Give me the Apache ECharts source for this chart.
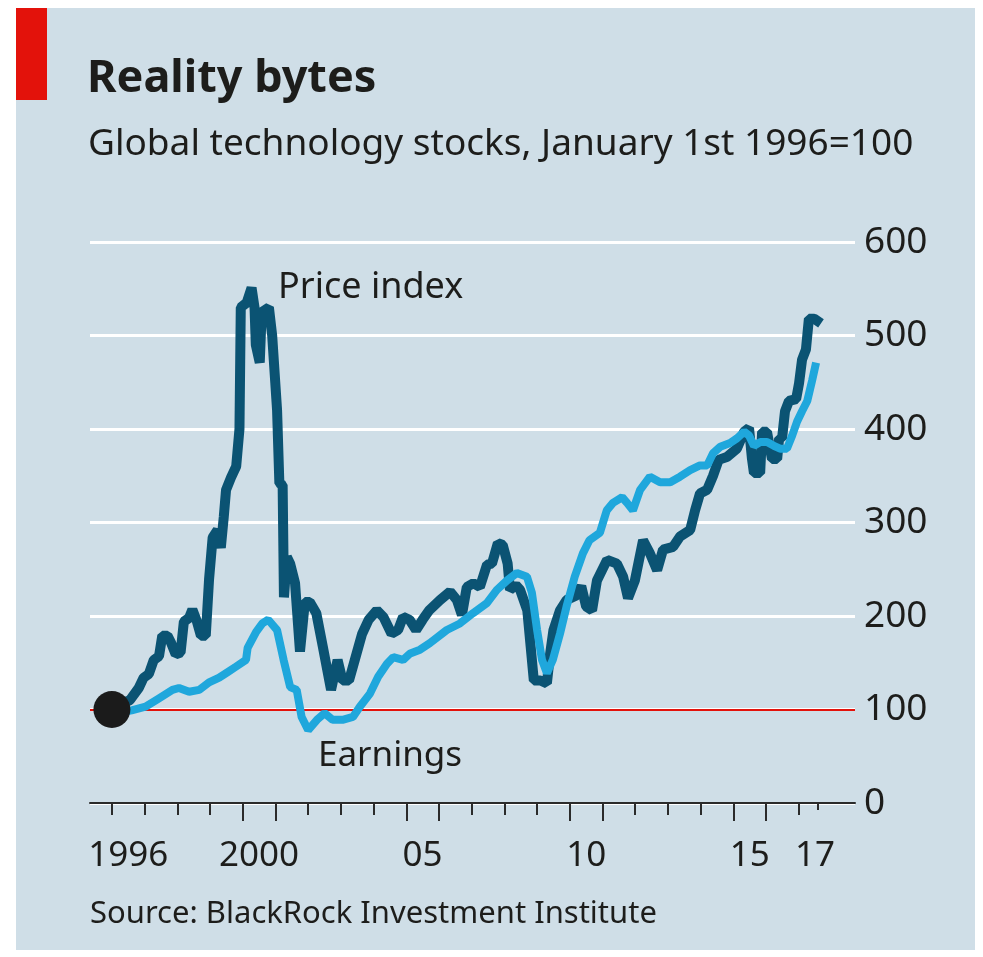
<!DOCTYPE html>
<html>
<head>
<meta charset="utf-8">
<script src="https://cdn.jsdelivr.net/npm/echarts@6/dist/echarts.min.js"></script>
<style>
  html, body { margin: 0; padding: 0; background: #fff; }
  #chart { width: 983px; height: 957px; }
</style>
</head>
<body>
<div id="chart"></div>
<script>
// Global technology stocks, January 1st 1996=100
const priceIndex = [
  [1996.00,100],[1996.30,106],[1996.55,110],[1996.82,123],[1996.97,134],[1997.13,138],[1997.28,153],
  [1997.44,157],[1997.54,179],[1997.70,179],[1997.80,172],[1997.95,159],[1998.10,161],[1998.20,194],
  [1998.36,198],[1998.46,207],[1998.60,194],[1998.72,179],[1998.87,179],[1998.97,239],[1999.08,284],
  [1999.23,292],[1999.33,273],[1999.42,306],[1999.49,335],[1999.64,348],[1999.80,360],[1999.90,400],
  [1999.94,530],[2000.12,535],[2000.27,551],[2000.36,530],[2000.40,490],[2000.52,471],[2000.58,525],
  [2000.80,530],[2000.90,500],[2001.05,420],[2001.12,342],[2001.22,340],[2001.26,220],[2001.35,263],
  [2001.45,256],[2001.60,235],[2001.75,162],[2001.90,215],[2002.05,215],[2002.25,203],[2002.45,167],
  [2002.70,121],[2002.90,153],[2003.05,131],[2003.25,131],[2003.45,156],[2003.65,181],[2003.85,196],
  [2004.10,206],[2004.30,199],[2004.55,181],[2004.75,185],[2004.90,199],[2005.10,196],[2005.30,185],
  [2005.50,196],[2005.70,206],[2006.03,217],[2006.34,226],[2006.55,217],[2006.70,201],[2006.85,231],
  [2007.05,235],[2007.25,231],[2007.47,255],[2007.62,256],[2007.80,278],[2007.95,276],[2008.10,256],
  [2008.17,228],[2008.35,233],[2008.48,228],[2008.70,206],[2008.90,131],[2009.10,131],[2009.30,128],
  [2009.40,160],[2009.50,185],[2009.70,206],[2009.90,217],[2010.20,222],[2010.35,232],[2010.50,210],
  [2010.68,206],[2010.83,238],[2011.14,260],[2011.44,256],[2011.63,242],[2011.78,219],[2011.99,238],
  [2012.24,281],[2012.45,267],[2012.67,249],[2012.85,271],[2013.16,274],[2013.37,285],[2013.68,292],
  [2013.83,313],[2013.98,331],[2014.20,335],[2014.38,350],[2014.55,367],[2014.80,370],[2015.11,379],
  [2015.33,397],[2015.48,401],[2015.57,368],[2015.63,353],[2015.82,353],[2015.88,397],[2016.03,397],
  [2016.18,368],[2016.34,368],[2016.40,390],[2016.49,390],[2016.58,419],[2016.70,430],[2016.92,432],
  [2017.01,449],[2017.10,474],[2017.22,485],[2017.31,518],[2017.47,518],[2017.68,513]
];
const earnings = [
  [1996.00,98],[1996.30,97],[1996.60,99],[1997.03,103],[1997.44,112],[1997.85,121],[1998.05,123],
  [1998.36,119],[1998.67,121],[1998.97,129],[1999.28,134],[1999.54,140],[1999.80,146],[2000.10,153],
  [2000.15,166],[2000.41,183],[2000.60,192],[2000.78,196],[2001.05,185],[2001.25,153],[2001.45,124],
  [2001.65,121],[2001.80,92],[2002.00,78],[2002.27,89],[2002.50,96],[2002.75,89],[2003.05,89],
  [2003.37,92],[2003.58,103],[2003.89,117],[2004.14,135],[2004.41,149],[2004.60,156],[2004.90,153],
  [2005.12,160],[2005.42,164],[2005.72,171],[2006.24,185],[2006.64,192],[2007.04,203],[2007.47,214],
  [2007.77,228],[2008.08,238],[2008.38,246],[2008.69,242],[2008.84,225],[2009.00,185],[2009.15,153],
  [2009.30,139],[2009.48,153],[2009.70,181],[2009.90,210],[2010.15,242],[2010.40,267],[2010.60,281],
  [2010.92,289],[2011.13,313],[2011.32,321],[2011.60,327],[2011.75,321],[2011.93,313],[2012.15,335],
  [2012.45,349],[2012.76,343],[2013.07,343],[2013.37,349],[2013.68,356],[2013.98,361],[2014.20,361],
  [2014.38,374],[2014.60,381],[2014.90,385],[2015.11,390],[2015.33,397],[2015.48,393],[2015.63,382],
  [2015.82,386],[2016.03,386],[2016.24,382],[2016.43,379],[2016.64,379],[2016.80,393],[2016.95,408],
  [2017.10,419],[2017.26,430],[2017.41,452],[2017.53,471]
];
const startPoint = [[1996, 100]];
const baseValue = 100;

const yearTicks = [1996,1997,1998,1999,2000,2001,2002,2003,2004,2005,2006,2007,2008,2009,2010,2011,2012,2013,2014,2015,2016,2017];
const longTicks = [2000,2001,2005,2006,2010,2011,2015,2016];
const endTick = [2017.58];
const xLabelYears = [1996.5, 2000.5, 2005.5, 2010.5, 2015.5, 2017.5];
const xLabelText = ['1996', '2000', '05', '10', '15', '17'];

const FONT = '"Noto Sans", Lato, sans-serif';
const INK = '#1d1d1b';

const chart = echarts.init(document.getElementById('chart'));

function xAxisBase(ticks, len, showLine) {
  return {
    type: 'value', position: 'bottom', min: 1995.33, max: 2018.72,
    axisLine: { show: showLine, lineStyle: { color: '#2b2b2b', width: 2 } },
    axisTick: { show: true, customValues: ticks, length: len, lineStyle: { color: '#2b2b2b', width: 2 } },
    axisLabel: { show: false },
    splitLine: { show: false }
  };
}

const xMain = xAxisBase(yearTicks, 12, true);
xMain.axisLabel = {
  show: true, customValues: xLabelYears, margin: 36,
  fontFamily: FONT, fontSize: 35, color: INK,
  formatter: function (v) {
    for (let i = 0; i < xLabelYears.length; i++) {
      if (Math.abs(xLabelYears[i] - v) < 0.01) return xLabelText[i];
    }
    return '';
  }
};

chart.setOption({
  backgroundColor: '#fff',
  animation: false,
  graphic: [
    { type: 'rect', z: -10, shape: { x: 16, y: 8, width: 959, height: 942 }, style: { fill: '#cfdee7' } },
    { type: 'rect', z: -9, shape: { x: 16, y: 8, width: 31, height: 92 }, style: { fill: '#e3120b' } },
    { type: 'text', left: 87, top: 57, style: { text: 'Reality bytes', fontFamily: FONT, fontWeight: 'bold', fontSize: 45, fill: INK } },
    { type: 'text', left: 88, top: 126, style: { text: 'Global technology stocks, January 1st 1996=100', fontFamily: FONT, fontSize: 37, fill: INK } },
    { type: 'text', left: 278, top: 270, style: { text: 'Price index', fontFamily: FONT, fontSize: 36, fill: INK } },
    { type: 'text', left: 318, top: 739, style: { text: 'Earnings', fontFamily: FONT, fontSize: 35, fill: INK } },
    { type: 'text', left: 90, top: 899, style: { text: 'Source: BlackRock Investment Institute', fontFamily: FONT, fontSize: 31, fill: INK } }
  ],
  grid: { left: 90, right: 128, top: 242, bottom: 154 },
  xAxis: [xMain, xAxisBase(longTicks, 18, false), xAxisBase(endTick, 7, false)],
  yAxis: {
    type: 'value', position: 'right', min: 0, max: 600, interval: 100,
    axisLine: { show: false }, axisTick: { show: false },
    axisLabel: { margin: 9, fontFamily: FONT, fontSize: 37, color: INK },
    splitLine: { lineStyle: { color: '#ffffff', width: 3 } }
  },
  series: [
    {
      name: 'Price index', type: 'line', data: priceIndex, showSymbol: false, z: 3,
      lineStyle: { color: '#0b5373', width: 10 },
      markLine: {
        silent: true, symbol: 'none', z: 1, label: { show: false },
        lineStyle: { color: '#e3120b', width: 2, type: 'solid' },
        data: [{ yAxis: baseValue }]
      }
    },
    {
      name: 'Earnings', type: 'line', data: earnings, showSymbol: false, z: 4,
      lineStyle: { color: '#1fa7dc', width: 8 }
    },
    {
      type: 'scatter', data: startPoint, symbolSize: 37, z: 5,
      itemStyle: { color: '#1b1b1b', opacity: 1 }
    }
  ]
});
</script>
</body>
</html>
